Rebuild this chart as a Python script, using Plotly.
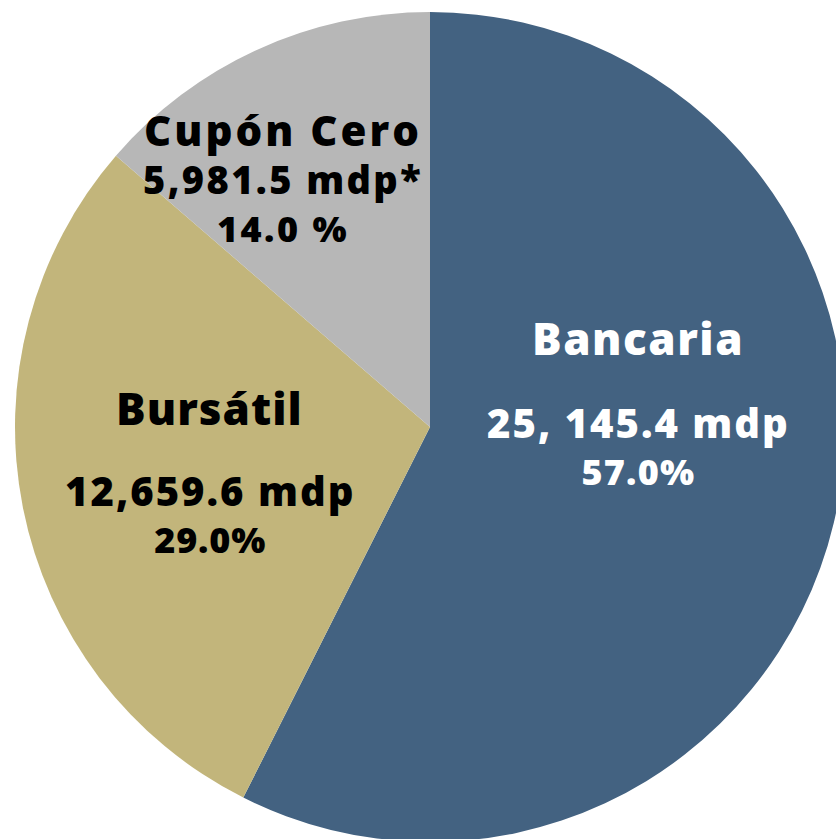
import plotly.graph_objects as go

# datos
labels = ["Bancaria", "Bursátil", "Cupón Cero"]
values = [25145.4, 12659.6, 5981.5]
value_labels = ["25, 145.4 mdp", "12,659.6 mdp", "5,981.5 mdp*"]
pct_labels = ["57.0%", "29.0%", "14.0 %"]
colors = ["#436281", "#C2B57B", "#B7B7B7"]
text_colors = ["white", "black", "black"]

W, H = 850, 850
ML, MT, D = 15, 12, 830  # pie center ~ (430, 427), radius 415

fig = go.Figure(go.Pie(
    labels=labels,
    values=values,
    sort=False,
    direction="clockwise",
    rotation=0,
    marker=dict(colors=colors, line=dict(width=0)),
    textinfo="none",
    hoverinfo="label+value+percent",
    showlegend=False,
))


def px(x, y):
    return (x - ML) / D, 1 - (y - MT) / D


def span(t, size, ls):
    return f"<span style='font-size:{size}px;letter-spacing:{ls}px'>{t}</span>"


def note(x, y, text, color, size):
    xp, yp = px(x, y)
    fig.add_annotation(
        x=xp, y=yp, xref="paper", yref="paper", text=text, showarrow=False,
        xanchor="center", yanchor="middle",
        font=dict(family="Open Sans", size=size, color=color, weight=800),
    )


# Bancaria
note(638, 338, span(labels[0], 44, 1.5), text_colors[0], 44)
note(638, 445, span(value_labels[0], 40, 2) + "<br>" + span(pct_labels[0], 36, 1.2),
     text_colors[0], 36)
# Bursátil
note(209, 408, span(labels[1], 44, 1), text_colors[1], 44)
note(210, 513, span(value_labels[1], 40, 2) + "<br>" + span(pct_labels[1], 36, 0.8),
     text_colors[1], 36)
# Cupón Cero
note(283, 177, span(labels[2], 42, 3) + "<br>" + span(value_labels[2], 38, 2.4)
     + "<br>" + span(pct_labels[2], 36, 2.5), text_colors[2], 37)

fig.update_layout(
    width=W, height=H,
    margin=dict(l=ML, t=MT, r=W - ML - D, b=H - MT - D),
    paper_bgcolor="white",
)

fig.write_html(
    "out.html",
    config={"displayModeBar": False},
    post_script="document.documentElement.style.overflow='hidden';document.body.style.overflow='hidden';document.body.style.margin='0';",
)
